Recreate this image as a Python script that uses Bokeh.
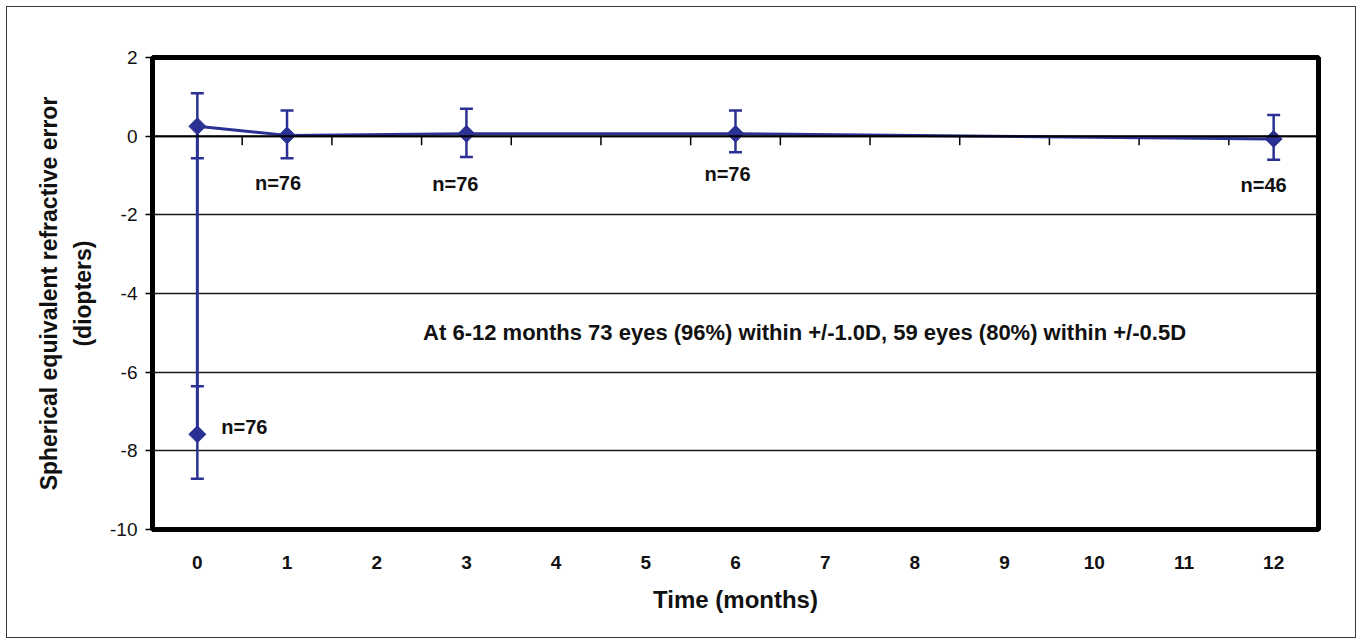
import math

from bokeh.plotting import figure
from bokeh.models import (ColumnDataSource, Whisker, TeeHead, FixedTicker,
                          LinearAxis, Range1d, Span, Label)
from bokeh.core.properties import value
from bokeh.embed import file_html
from bokeh.resources import INLINE

# Spherical equivalent refraction over follow-up (months after surgery)
preop_month = [0]
preop_mean = [-7.58]
preop_low = [-8.71]
preop_high = [-6.36]
preop_n = [76]

post_months = [0, 1, 3, 6, 12]
post_mean = [0.25, 0.02, 0.06, 0.06, -0.07]
post_low = [-0.56, -0.56, -0.53, -0.41, -0.60]
post_high = [1.09, 0.65, 0.70, 0.65, 0.54]

n_months = [1, 3, 6, 12]
n_eyes = [76, 76, 76, 46]

x_ticks = list(range(0, 13))
y_ticks = [-10, -8, -6, -4, -2, 0, 2]
note = "At 6-12 months 73 eyes (96%) within +/-1.0D, 59 eyes (80%) within +/-0.5D"

NAVY = "#2B3192"
FONT = "Liberation Sans"
INK = "#111111"

p = figure(width=1362, height=644,
           x_range=Range1d(-0.5, 12.5), y_range=Range1d(-10, 2),
           output_backend="svg", toolbar_location=None,
           min_border_left=152, min_border_right=44,
           min_border_top=57, min_border_bottom=115)
p.background_fill_color = "white"
# transparent surround so the page frame drawn on the host shows through
p.border_fill_color = None
p.outline_line_color = "black"
p.outline_line_width = 5
p.outline_line_alpha = 1.0

p.styles = {"outline": "1.5px solid #3a3a3a", "outline-offset": "-7px",
            "background-color": "white"}
p.stylesheets = [":host { outline: 1.5px solid #3a3a3a; outline-offset: -7px; "
                 "background-color: white; }"]

# horizontal grid lines
p.xgrid.visible = False
p.ygrid.ticker = FixedTicker(ticks=y_ticks)
p.ygrid.grid_line_color = "#1a1a1a"
p.ygrid.grid_line_width = 1.5

# y axis with tick labels and the "(diopters)" line of the title
ya = p.yaxis[0]
ya.ticker = FixedTicker(ticks=y_ticks)
ya.major_label_overrides = {t: str(t) for t in y_ticks}
ya.axis_line_color = None
ya.major_tick_out = 7
ya.major_tick_in = 0
ya.major_tick_line_color = "black"
ya.major_tick_line_width = 1.5
ya.minor_tick_line_color = None
ya.major_label_standoff = 8
ya.major_label_text_font = FONT
ya.major_label_text_font_size = "19px"
ya.major_label_text_color = INK
ya.axis_label = "(diopters)"
ya.axis_label_text_font = FONT
ya.axis_label_text_font_size = "23px"
ya.axis_label_text_font_style = "bold"
ya.axis_label_text_color = INK
ya.axis_label_standoff = 11

# outer title line
ya2 = LinearAxis(ticker=FixedTicker(ticks=[]))
ya2.axis_line_color = None
ya2.major_tick_line_color = None
ya2.minor_tick_line_color = None
ya2.major_label_text_font_size = "0px"
ya2.major_tick_out = 0
ya2.major_label_standoff = 0
ya2.axis_label = "Spherical equivalent refractive error"
ya2.axis_label_text_font = FONT
ya2.axis_label_text_font_size = "23px"
ya2.axis_label_text_font_style = "bold"
ya2.axis_label_text_color = INK
ya2.axis_label_standoff = 6
p.add_layout(ya2, "left")

xa = p.xaxis[0]
xa.ticker = FixedTicker(ticks=x_ticks)
xa.axis_line_color = None
xa.major_tick_line_color = None
xa.minor_tick_line_color = None
xa.major_label_standoff = 20
xa.major_label_text_font = FONT
xa.major_label_text_font_size = "19px"
xa.major_label_text_font_style = "bold"
xa.major_label_text_color = INK
xa.axis_label = "Time (months)"
xa.axis_label_text_font = FONT
xa.axis_label_text_font_size = "24px"
xa.axis_label_text_font_style = "bold"
xa.axis_label_text_color = INK
xa.axis_label_standoff = 14

# category axis crossing at zero, with ticks between the months
p.add_layout(Span(location=0, dimension="width", line_color="black", line_width=2))
tick_len = 0.23
between = [m + 0.5 for m in x_ticks[:-1]]
p.segment(x0=between, y0=[0] * len(between), x1=between,
          y1=[-tick_len] * len(between), line_color="black", line_width=1.5)

# error bars
err = ColumnDataSource(dict(
    x=preop_month + post_months,
    lo=preop_low + post_low,
    hi=preop_high + post_high,
))
p.add_layout(Whisker(source=err, base="x", lower="lo", upper="hi",
                     line_color=NAVY, line_width=2.5,
                     upper_head=TeeHead(size=13, line_color=NAVY, line_width=2.5),
                     lower_head=TeeHead(size=13, line_color=NAVY, line_width=2.5)))

# mean refraction from before surgery through follow-up
all_months = preop_month + post_months
all_mean = preop_mean + post_mean
p.line(all_months, all_mean, line_color=NAVY, line_width=3)
p.scatter(all_months, all_mean, marker="square", angle=math.pi / 4, size=12,
          fill_color=NAVY, line_color=NAVY)

# sample sizes
n_y = [post_mean[post_months.index(m)] for m in n_months]
n_dx = [-9, -11, -8, -10]
n_dy = [48, 50, 40, 46]
p.text(x=n_months, y=n_y, text=[f"n={n}" for n in n_eyes],
       x_offset=n_dx, y_offset=n_dy,
       text_align="center", text_baseline="middle",
       text_font=value(FONT), text_font_size="20px", text_font_style="bold",
       text_color=INK)
p.text(x=preop_month, y=preop_mean, text=[f"n={n}" for n in preop_n],
       x_offset=24, y_offset=-7,
       text_align="left", text_baseline="middle",
       text_font=value(FONT), text_font_size="20px", text_font_style="bold",
       text_color=INK)

p.add_layout(Label(x=6.77, y=-5.0, text=note,
                   text_align="center", text_baseline="middle",
                   text_font=FONT, text_font_size="22px",
                   text_font_style="bold", text_color=INK))

open("out.html", "w").write(file_html(p, INLINE))
